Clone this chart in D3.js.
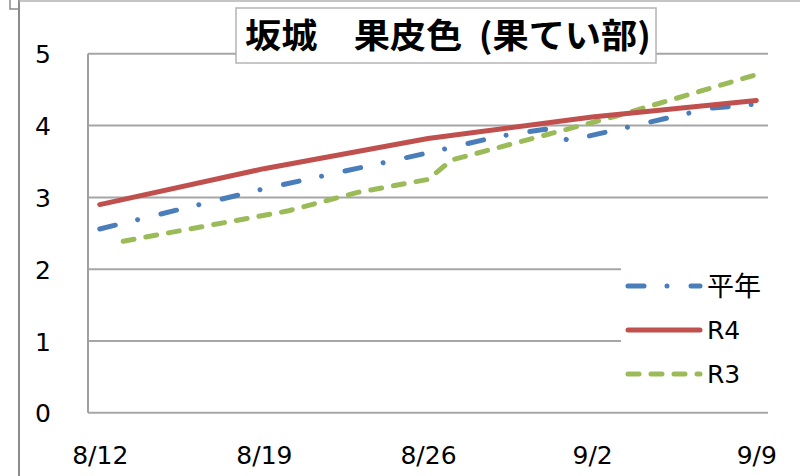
<!DOCTYPE html>
<html><head><meta charset="utf-8">
<script src="https://cdn.jsdelivr.net/npm/d3@7"></script>
<style>body{margin:0;background:#fff}svg{display:block}</style>
</head><body>
<svg id="c" width="800" height="476"></svg>
<script>
const title = "坂城　果皮色  (果てい部)";
const xTickLabels = ["8/12","8/19","8/26","9/2","9/9"];
const yTickValues = [0,1,2,3,4,5];
const seriesNames = ["平年","R4","R3"];
const heinenDates = ["8/12","8/19","8/26","8/29","8/31","9/1","9/7","9/9"];
const heinenValues = [2.56,3.12,3.62,3.85,3.95,3.79,4.24,4.30];
const r4Dates = ["8/12","8/19","8/26","9/2","9/9"];
const r4Values = [2.90,3.40,3.82,4.12,4.35];
const r3Dates = ["8/13","8/20","8/23","8/26","8/27","9/3","9/9"];
const r3Values = [2.39,2.81,3.07,3.25,3.52,4.13,4.71];

const parse = d3.timeParse("%m/%d");
const day = 864e5;
const svg = d3.select("#c");
const L = 88, R = 768, T = 53.8, B = 412.8;

const x = d3.scaleTime()
  .domain([new Date(parse("8/12").getTime() - day/2), new Date(parse("9/9").getTime() + day/2)])
  .range([L, R]);
const y = d3.scaleLinear().domain([0,5]).range([B, T]);

// outer frame fragments
svg.append("path").attr("d","M10,0V9H19").attr("fill","none").attr("stroke","#8c8c8c").attr("stroke-width",1.5);
svg.append("line").attr("x1",19).attr("x2",19).attr("y1",0).attr("y2",476).attr("stroke","#8c8c8c").attr("stroke-width",2);
svg.append("line").attr("x1",19).attr("x2",800).attr("y1",1).attr("y2",1).attr("stroke","#b0b0b0").attr("stroke-width",1.5);

// gridlines
svg.append("g").selectAll("line").data(yTickValues).join("line")
  .attr("x1", L).attr("x2", R)
  .attr("y1", d => y(d)).attr("y2", d => y(d))
  .attr("stroke", "#a6a6a6").attr("stroke-width", 2);
// vertical axis line
svg.append("line").attr("x1",L).attr("x2",L).attr("y1",y(5)).attr("y2",y(0))
  .attr("stroke","#a0a0a0").attr("stroke-width",2);

// y axis labels
const yAxis = d3.axisLeft(y).tickValues(yTickValues).tickSize(0).tickPadding(0).tickFormat(d3.format("d"));
const gy = svg.append("g").attr("transform","translate(51,0)").call(yAxis);
gy.select(".domain").remove();
gy.selectAll("text").attr("font-family","DejaVu Sans").attr("font-size",25).attr("fill","#000")
  .attr("dy","0.36em");

// x axis labels
const xAxis = d3.axisBottom(x).tickValues(xTickLabels.map(parse)).tickSize(0).tickPadding(0)
  .tickFormat((d,i) => xTickLabels[i]);
const gx = svg.append("g").attr("transform","translate(0,446)").call(xAxis);
gx.select(".domain").remove();
gx.selectAll("text").attr("font-family","DejaVu Sans").attr("font-size",25).attr("fill","#000")
  .attr("dy","0.71em");

const line = d3.line().x(d => x(d[0])).y(d => y(d[1]));
const series = [
  {dates: heinenDates, values: heinenValues, color: "#4a7ebb", dash: "16 23 0.01 24"},
  {dates: r4Dates, values: r4Values, color: "#c0504d", dash: null},
  {dates: r3Dates, values: r3Values, color: "#9bbb59", dash: "11 12"}
];
const order = [2, 0, 1];
order.forEach(i => {
  const s = series[i];
  svg.append("path")
    .datum(s.dates.map((d, j) => [parse(d), s.values[j]]))
    .attr("d", line).attr("fill","none")
    .attr("stroke", s.color).attr("stroke-width", 5)
    .attr("stroke-linecap","round").attr("stroke-linejoin","round")
    .attr("stroke-dasharray", s.dash);
});

// legend
svg.append("rect").attr("x",621).attr("y",262).attr("width",150).attr("height",136).attr("fill","#fff");
const lg = svg.append("g");
series.forEach((s, i) => {
  const cy = 286 + i * 44;
  lg.append("line").attr("x1",628).attr("x2",700).attr("y1",cy).attr("y2",cy)
    .attr("stroke", s.color).attr("stroke-width",5).attr("stroke-linecap","round")
    .attr("stroke-dasharray", s.dash);
  lg.append("text").attr("x",707).attr("y",cy)
    .attr("dy","0.36em")
    .attr("font-family", i === 0 ? "Noto Sans CJK JP" : "DejaVu Sans")
    .attr("font-size", i === 0 ? 27 : 25).attr("fill","#000")
    .text(seriesNames[i]);
});

// title
svg.append("rect").attr("x",236).attr("y",8).attr("width",420).attr("height",55)
  .attr("fill","#fff").attr("stroke","#b4b4b4").attr("stroke-width",1.5);
svg.append("text").attr("x",245).attr("y",36).attr("dy","0.36em")
  .style("white-space","pre")
  .attr("font-family","Noto Sans CJK JP").attr("font-weight","bold").attr("font-size",34)
  .attr("textLength",406).attr("lengthAdjust","spacingAndGlyphs")
  .attr("fill","#000").text(title);
</script>
</body></html>
